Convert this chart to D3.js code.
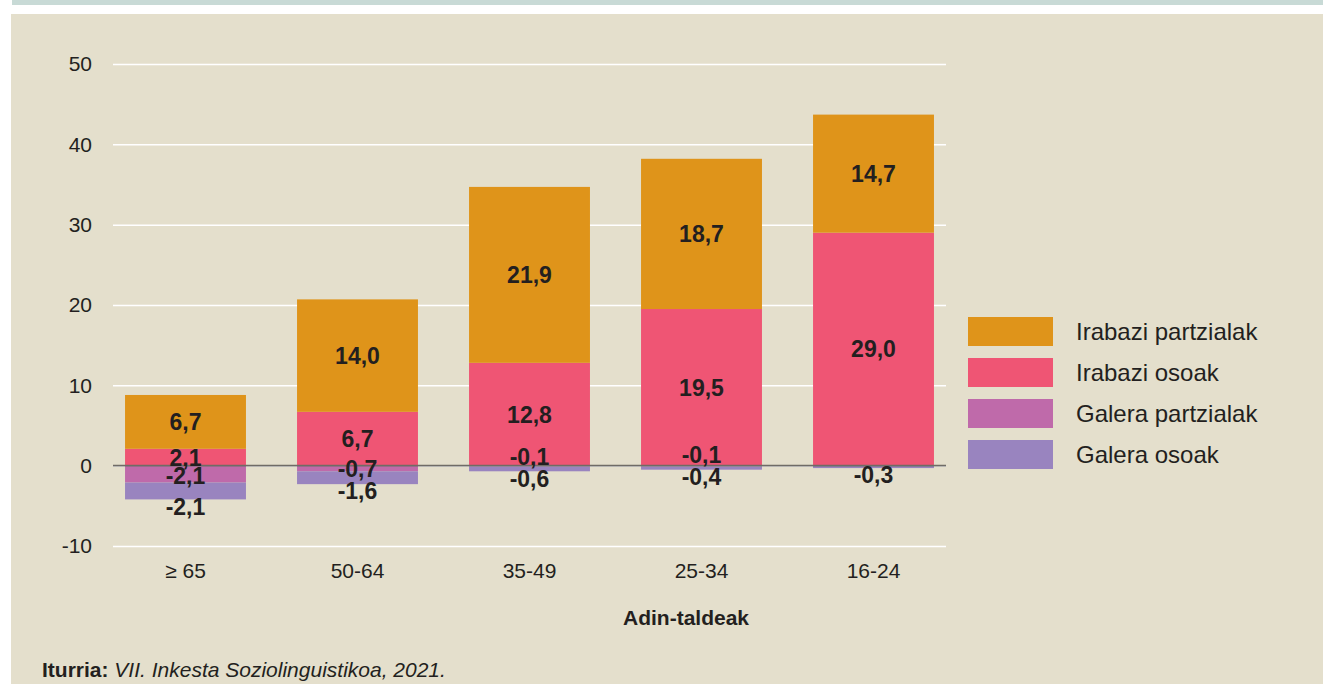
<!DOCTYPE html>
<html>
<head>
<meta charset="utf-8">
<script src="https://cdn.jsdelivr.net/npm/d3@7"></script>
<style>
  body { margin: 0; background: #ffffff; }
  svg { display: block; font-family: "Liberation Sans", Arial, sans-serif; }
  .tick text { fill: #231f20; }
</style>
</head>
<body>
<div id="chart"></div>
<script>
// Data
const groups = ['≥ 65', '50-64', '35-49', '25-34', '16-24'];
const irabaziPartzialak = [6.7, 14.0, 21.9, 18.7, 14.7];
const irabaziOsoak = [2.1, 6.7, 12.8, 19.5, 29.0];
const galeraPartzialak = [-2.1, -0.7, -0.1, -0.1, 0];
const galeraOsoak = [-2.1, -1.6, -0.6, -0.4, -0.3];
const yTicks = [-10, 0, 10, 20, 30, 40, 50];

const seriesNames = ['Irabazi partzialak', 'Irabazi osoak', 'Galera partzialak', 'Galera osoak'];
const seriesColors = ['#df941a', '#ef5574', '#bf6aaa', '#9984bf'];

const width = 1323;
const height = 684;

const svg = d3.select("#chart").append("svg")
    .attr("width", width)
    .attr("height", height);

// frame: top band + beige panel
svg.append("rect").attr("x", 12).attr("y", 0).attr("width", width - 12).attr("height", 5)
    .attr("fill", "#c8dad6");
svg.append("rect").attr("x", 11).attr("y", 14).attr("width", width - 11).attr("height", height - 14)
    .attr("fill", "#e4dfcc");

const x = d3.scaleBand()
    .domain(groups)
    .range([113, 946])
    .paddingInner(0.297)
    .paddingOuter(0.07);

const y = d3.scaleLinear()
    .domain([-10, 50])
    .range([546, 64]);

// grid + y labels
const yAxis = d3.axisLeft(y)
    .tickValues(yTicks)
    .tickSize(-(946 - 113))
    .tickPadding(21)
    .tickFormat(d => d);

svg.append("g")
    .attr("transform", "translate(113,0)")
    .call(yAxis)
    .call(g => g.select(".domain").remove())
    .call(g => g.selectAll(".tick line").attr("stroke", "#ffffff").attr("stroke-width", 1.5))
    .call(g => g.selectAll(".tick text").attr("font-size", 21).attr("font-family", "Liberation Sans, Arial, sans-serif"));

// build stacked segments
const segs = [];
groups.forEach((g, i) => {
  const po = irabaziOsoak[i], pp = irabaziPartzialak[i];
  const gp = galeraPartzialak[i], go = galeraOsoak[i];
  segs.push({ g, s: 1, v: po, y0: 0, y1: po });
  segs.push({ g, s: 0, v: pp, y0: po, y1: po + pp });
  segs.push({ g, s: 2, v: gp, y0: 0, y1: gp });
  segs.push({ g, s: 3, v: go, y0: gp, y1: gp + go });
});

svg.append("g").selectAll("rect")
  .data(segs.filter(d => d.v !== 0))
  .join("rect")
    .attr("x", d => x(d.g))
    .attr("width", x.bandwidth())
    .attr("y", d => y(Math.max(d.y0, d.y1)))
    .attr("height", d => Math.abs(y(d.y0) - y(d.y1)))
    .attr("fill", d => seriesColors[d.s]);

// zero line
svg.append("line")
    .attr("x1", 113).attr("x2", 946)
    .attr("y1", y(0)).attr("y2", y(0))
    .attr("stroke", "#6f6c66").attr("stroke-width", 1.6);

// value labels
const fmt = v => d3.format(".1f")(v).replace('.', ',').replace('−', '-');
const labelY = d => {
  if (d.s <= 1) return y((d.y0 + d.y1) / 2);
  const i = groups.indexOf(d.g);
  const goY = y(galeraPartzialak[i] + galeraOsoak[i]) + 7;
  if (d.s === 3) return goY;
  return Math.min(y((d.y0 + d.y1) / 2) + 2, goY - 22);
};

svg.append("g").selectAll("text")
  .data(segs.filter(d => d.v !== 0))
  .join("text")
    .attr("x", d => x(d.g) + x.bandwidth() / 2)
    .attr("y", labelY)
    .attr("dy", "0.36em")
    .attr("text-anchor", "middle")
    .attr("font-size", 23)
    .attr("font-weight", "bold")
    .attr("fill", "#231f20")
    .text(d => fmt(d.v));

// x labels
svg.append("g").selectAll("text")
  .data(groups)
  .join("text")
    .attr("x", d => x(d) + x.bandwidth() / 2)
    .attr("y", 570)
    .attr("dy", "0.36em")
    .attr("text-anchor", "middle")
    .attr("font-size", 21)
    .attr("fill", "#231f20")
    .text(d => d);

svg.append("text")
    .attr("x", 686)
    .attr("y", 617)
    .attr("dy", "0.36em")
    .attr("text-anchor", "middle")
    .attr("font-size", 21)
    .attr("font-weight", "bold")
    .attr("fill", "#231f20")
    .text("Adin-taldeak");

// legend
const legend = svg.append("g").selectAll("g")
  .data(seriesNames)
  .join("g")
    .attr("transform", (d, i) => `translate(968,${317 + i * 41})`);

legend.append("rect")
    .attr("width", 85)
    .attr("height", 29)
    .attr("fill", (d, i) => seriesColors[i]);

legend.append("text")
    .attr("x", 108)
    .attr("y", 14.5)
    .attr("dy", "0.36em")
    .attr("font-size", 24)
    .attr("fill", "#231f20")
    .text(d => d);

// source
const src = svg.append("text")
    .attr("x", 42)
    .attr("y", 669)
    .attr("dy", "0.36em")
    .attr("font-size", 21)
    .attr("fill", "#231f20");
src.append("tspan").attr("font-weight", "bold").text("Iturria: ");
src.append("tspan").attr("font-style", "italic").text("VII. Inkesta Soziolinguistikoa, 2021.");
</script>
</body>
</html>
